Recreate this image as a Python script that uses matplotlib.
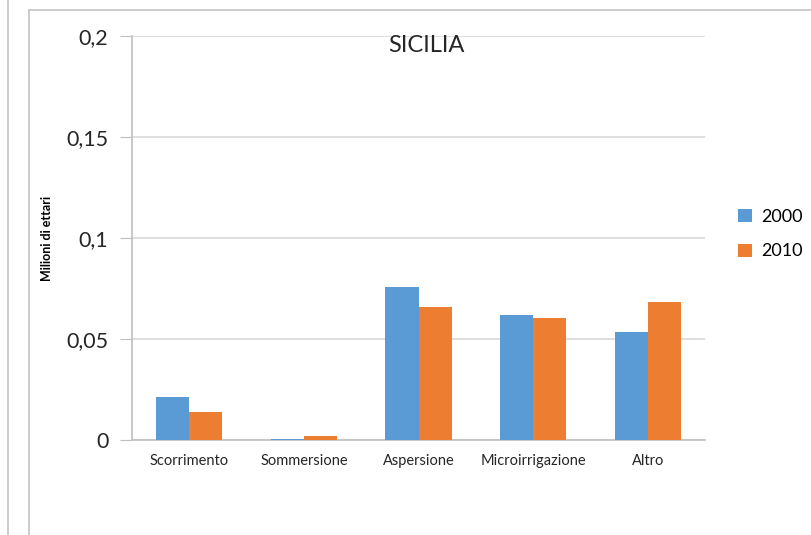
import numpy as np
import matplotlib.pyplot as plt
from matplotlib.lines import Line2D

# Dati
categorie = ['Scorrimento', 'Sommersione', 'Aspersione', 'Microirrigazione', 'Altro']
valori_2000 = [0.0213, 0.0005, 0.0757, 0.0619, 0.0535]
valori_2010 = [0.0139, 0.0020, 0.0658, 0.0604, 0.0683]
anni = ['2000', '2010']
tick_y = [0, 0.05, 0.1, 0.15, 0.2]
etichette_y = ['0', '0,05', '0,1', '0,15', '0,2']

plt.rcParams['font.family'] = ['Lato', 'DejaVu Sans']

W, H = 812, 535
fig = plt.figure(figsize=(W / 100, H / 100), dpi=100)
ax = fig.add_axes([132 / W, 1 - 440 / H, (705 - 132) / W, (440 - 36) / H])

x = np.arange(len(categorie))
larghezza = 0.288
ax.bar(x - larghezza / 2, valori_2000, larghezza, color='#5B9BD5', label=anni[0], zorder=3)
ax.bar(x + larghezza / 2, valori_2010, larghezza, color='#ED7D31', label=anni[1], zorder=3)

ax.set_xlim(-0.5, len(categorie) - 0.5)
ax.set_ylim(0, 0.2)
ax.set_yticks(tick_y)
ax.set_yticklabels(etichette_y, fontsize=15.5, color='#262626')
ax.set_xticks(x)
ax.set_xticklabels(categorie, fontsize=10.5, color='#262626')
ax.tick_params(axis='x', length=0, pad=10)
ax.tick_params(axis='y', length=9, color='#BFBFBF', pad=8)
ax.grid(axis='y', color='#D9D9D9', linewidth=1.2, zorder=0)
for lato in ['top', 'right']:
    ax.spines[lato].set_visible(False)
ax.spines['left'].set_color('#BFBFBF')
ax.spines['bottom'].set_color('#BFBFBF')
ax.spines['left'].set_linewidth(1.2)
ax.spines['bottom'].set_linewidth(1.2)

fig.text(426 / W, 1 - 46 / H, 'SICILIA', ha='center', va='center',
         fontsize=17, color='#262626')
fig.text(47 / W, 1 - 238 / H, 'Milioni di ettari', rotation=90, ha='center', va='center',
         fontsize=9, fontweight='bold', color='#000000')

ax.legend(loc='center left', bbox_to_anchor=(722 / W, 1 - 234 / H),
          bbox_transform=fig.transFigure, frameon=False, fontsize=13,
          handlelength=0.75, handleheight=0.75, handletextpad=0.5, labelspacing=1.05)

# bordi della cornice
col = '#C8C8C8'
fig.add_artist(Line2D([8.5 / W, 8.5 / W], [0, 1], color=col, linewidth=1.3))
fig.add_artist(Line2D([29.5 / W, 29.5 / W], [0, 1 - 10 / H], color=col, linewidth=1.3))
fig.add_artist(Line2D([29.5 / W, 1], [1 - 10 / H, 1 - 10 / H], color=col, linewidth=1.3))

fig.savefig('out.png', dpi=100)
